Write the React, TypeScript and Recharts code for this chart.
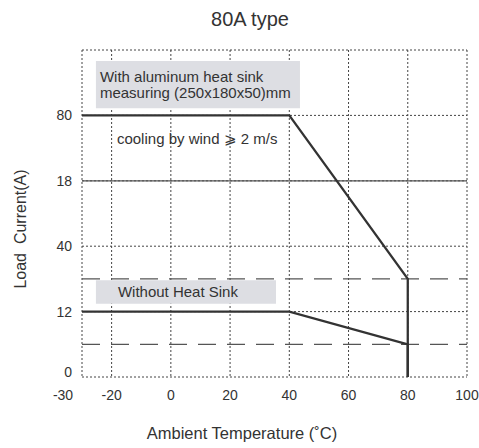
import React from 'react';
import {
  ComposedChart,
  Line,
  XAxis,
  YAxis,
  CartesianGrid,
  ReferenceLine,
  ReferenceArea,
} from 'recharts';

// Temperature ticks (°C)
const xTicks = [-30, -20, 0, 20, 40, 60, 80, 100];
// Y axis is drawn on evenly spaced levels carrying these labels (as printed)
const yLevels = [0, 1, 2, 3, 4, 5];
const yTickLabels = ['0', '12', '40', '18', '80', ''];

// With aluminum heat sink: temperature vs level
const heatSinkTemp = [-30, 40, 80, 80];
const heatSinkLevel = [4, 4, 1.5, 0];
// Without heat sink
const noSinkTemp = [-30, 40, 80, 80];
const noSinkLevel = [1, 1, 0.5, 0];

// Reference levels
const solidLevel = 3;
const dashedLevels = [1.5, 0.5];

const heatSinkData = heatSinkTemp.map((t, i) => ({ t, v: heatSinkLevel[i] }));
const noSinkData = noSinkTemp.map((t, i) => ({ t, v: noSinkLevel[i] }));

const FONT = '"Liberation Sans", Arial, Helvetica, sans-serif';
const TEXT = '#333';

const XTick = (props: any) => {
  const { x, y, payload } = props;
  const shift = payload.value === -30 ? -19 : 0;
  return (
    <text x={x + shift} y={y} dy="0.71em" textAnchor="middle" fontSize={14} fill={TEXT} fontFamily={FONT}>
      {payload.value}
    </text>
  );
};

const YTick = (props: any) => {
  const { x, y, payload } = props;
  const label = yTickLabels[payload.value] ?? '';
  const shift = payload.value === 0 ? -5 : 0;
  return (
    <text x={x} y={y + shift} dy="0.355em" textAnchor="end" fontSize={14} fill={TEXT} fontFamily={FONT}>
      {label}
    </text>
  );
};

const boxLabel = (lines: string[], dx: number) => (props: any) => {
  const vb = props.viewBox || {};
  const n = lines.length;
  const lh = 16;
  const cy = vb.y + vb.height / 2;
  return (
    <text fontSize={15} fill={TEXT} fontFamily={FONT}>
      {lines.map((l, i) => (
        <tspan key={i} x={vb.x + dx} y={cy + (i - (n - 1) / 2) * lh} dy="0.355em">
          {l}
        </tspan>
      ))}
    </text>
  );
};

export default function App() {
  return (
    <div style={{ position: 'absolute', left: 0, top: 0, width: 479, height: 448, background: '#fff' }}>
      <ComposedChart
        width={479}
        height={448}
        margin={{ top: 50, right: 12, bottom: 0, left: 0 }}
      >
        <CartesianGrid stroke="#444" strokeDasharray="2 2" strokeWidth={1} />
        <XAxis
          type="number"
          dataKey="t"
          domain={[-30, 100]}
          ticks={xTicks}
          allowDataOverflow
          axisLine={false}
          tickLine={false}
          height={71}
          tickMargin={7}
          tick={<XTick />}
        />
        <YAxis
          type="number"
          dataKey="v"
          domain={[0, 5]}
          ticks={yLevels}
          allowDataOverflow
          axisLine={false}
          tickLine={false}
          width={82}
          tickMargin={4}
          tick={<YTick />}
        />
        <ReferenceLine y={solidLevel} stroke="#555" strokeWidth={1.2} />
        {dashedLevels.map((lv) => (
          <ReferenceLine key={lv} y={lv} stroke="#555" strokeWidth={1.2} strokeDasharray="18 11" />
        ))}
        <ReferenceArea
          x1={-25.3}
          x2={43.6}
          y1={4.11}
          y2={4.83}
          fill="#dddee3"
          fillOpacity={1}
          stroke="none"
          label={boxLabel(['With aluminum heat sink', 'measuring (250x180x50)mm'], 4)}
        />
        <ReferenceArea
          x1={-25.3}
          x2={35.5}
          y1={1.12}
          y2={1.48}
          fill="#dddee3"
          fillOpacity={1}
          stroke="none"
          label={boxLabel(['Without Heat Sink'], 22)}
        />
        <ReferenceArea
          x1={-18.2}
          x2={35}
          y1={3.5}
          y2={3.8}
          fill="none"
          fillOpacity={0}
          stroke="none"
          label={boxLabel(['cooling by wind ⩾ 2 m/s'], 0)}
        />
        <Line
          data={heatSinkData}
          dataKey="v"
          type="linear"
          stroke="#333"
          strokeWidth={2.3}
          dot={false}
          isAnimationActive={false}
        />
        <Line
          data={noSinkData}
          dataKey="v"
          type="linear"
          stroke="#333"
          strokeWidth={2.3}
          dot={false}
          isAnimationActive={false}
        />
      </ComposedChart>
      <svg
        width={479}
        height={448}
        style={{ position: 'absolute', left: 0, top: 0, pointerEvents: 'none' }}
      >
        <text x={250} y={26} textAnchor="middle" fontSize={20} fill={TEXT} fontFamily={FONT}>
          80A type
        </text>
        <text x={242} y={439} textAnchor="middle" fontSize={16.5} fill={TEXT} fontFamily={FONT}>
          Ambient Temperature (˚C)
        </text>
        <text
          transform="translate(26, 229) rotate(-90)"
          x={0}
          y={0}
          textAnchor="middle"
          fontSize={16}
          fill={TEXT}
          fontFamily={FONT}
        >
          {'Load\u00a0\u00a0Current(A)'}
        </text>
      </svg>
    </div>
  );
}
